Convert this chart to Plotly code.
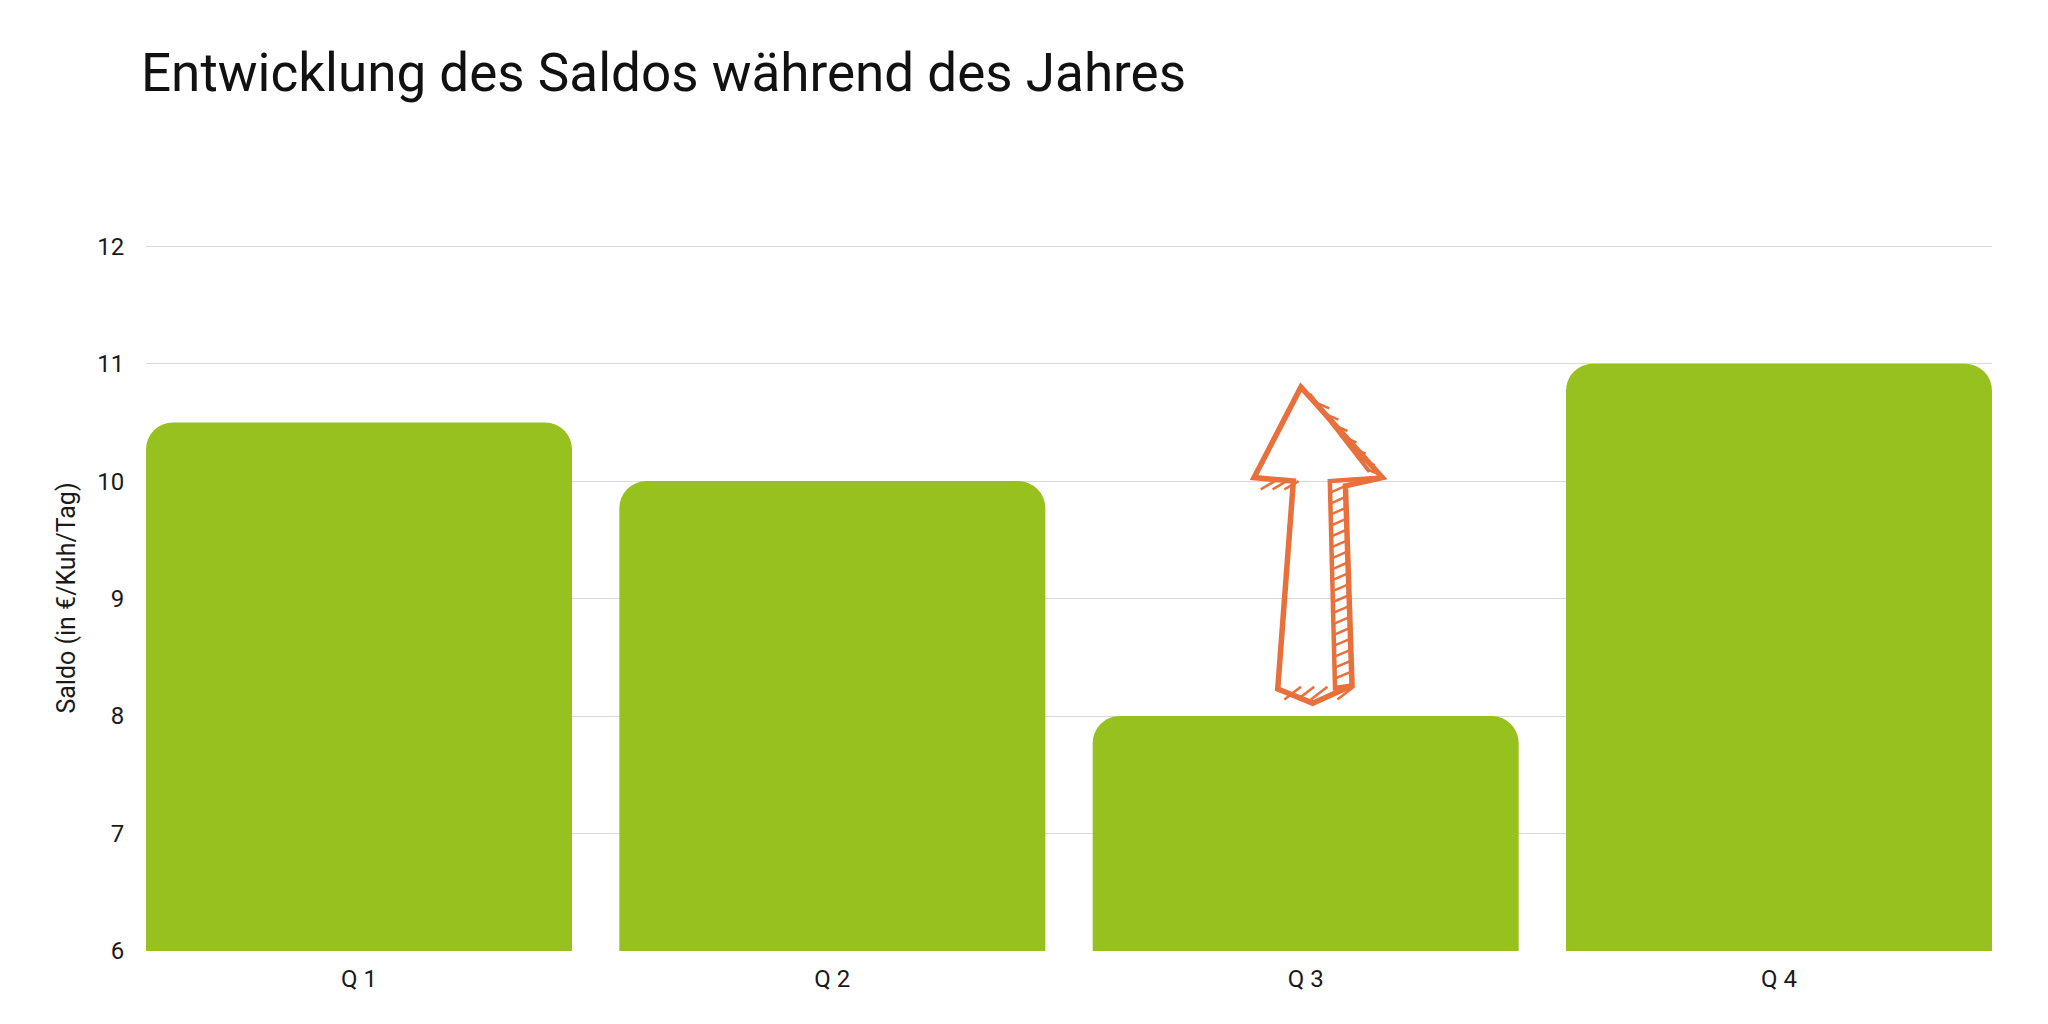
import plotly.graph_objects as go

# Data
categories = ["Q 1", "Q 2", "Q 3", "Q 4"]
saldo = [10.5, 10.0, 8.0, 11.0]
y_ticks = [6, 7, 8, 9, 10, 11, 12]

title_text = "Entwicklung des Saldos während des Jahres"
y_title = "Saldo (in €/Kuh/Tag)"

GREEN = "#96C11F"
ORANGE = "#E8703C"
FONT = "Roboto, 'DejaVu Sans', sans-serif"

xpos = list(range(len(categories)))

fig = go.Figure()
fig.add_trace(go.Bar(
    x=xpos, y=saldo,
    marker=dict(color=GREEN, cornerradius=27, line=dict(width=0)),
    hoverinfo="skip", showlegend=False,
))

# Hand-drawn style arrow over Q3 (decorative annotation), anchored to Q3 value
cx = 2
b = saldo[2]
outline = [
    (cx - 0.010, b + 2.80),  # tip
    (cx + 0.162, b + 2.03),  # right head
    (cx + 0.084, b + 1.96),  # shaft outer right top
    (cx + 0.098, b + 0.26),  # shaft outer right bottom
    (cx + 0.015, b + 0.11),  # bottom
    (cx - 0.059, b + 0.23),  # shaft left bottom
    (cx - 0.026, b + 2.00),  # shaft left top
    (cx - 0.109, b + 2.03),  # left head
]
def path_from(pts, close=True):
    s = "M " + " L ".join(f"{x},{y}" for x, y in pts)
    return s + (" Z" if close else "")

fig.add_shape(type="path", path=path_from(outline), xref="x", yref="y",
              line=dict(color=ORANGE, width=5.5), layer="above")
# front face right edge of shaft
front = [(cx + 0.162, b + 2.03), (cx + 0.051, b + 2.00), (cx + 0.062, b + 0.24), (cx + 0.098, b + 0.26)]
fig.add_shape(type="path", path=path_from(front, close=False), xref="x", yref="y",
              line=dict(color=ORANGE, width=4.5), layer="above")
# side face of head
headside = [(cx + 0.008, b + 2.74), (cx + 0.135, b + 2.08)]
fig.add_shape(type="path", path=path_from(headside, close=False), xref="x", yref="y",
              line=dict(color=ORANGE, width=4), layer="above")
# hatch marks
hatch = ""
n = 18
for i in range(n):
    t = i / (n - 1)
    yy = b + 0.32 + t * 1.58
    x0 = cx + 0.062 - t * 0.011
    x1 = cx + 0.098 - t * 0.014
    hatch += f"M {x0},{yy} L {x1},{yy + 0.06} "
for i in range(7):
    t = i / 6
    xx = cx + 0.015 + t * 0.115
    yy = b + 2.68 - t * 0.58
    hatch += f"M {xx},{yy} L {xx + 0.035},{yy - 0.06} "
for i in range(5):
    xx = cx - 0.045 + i * 0.028
    hatch += f"M {xx},{b + 0.14} L {xx + 0.035},{b + 0.25} "
for i in range(3):
    xx = cx - 0.095 + i * 0.025
    hatch += f"M {xx},{b + 1.93} L {xx + 0.03},{b + 2.0} "
fig.add_shape(type="path", path=hatch, xref="x", yref="y",
              line=dict(color=ORANGE, width=2.5), layer="above")

fig.update_layout(
    width=2048, height=1024,
    margin=dict(l=146, r=56, t=245, b=73),
    paper_bgcolor="white", plot_bgcolor="white",
    bargap=0.10,
    font=dict(family=FONT, color="#1a1a1a", size=24),
    title=dict(text=title_text, x=141 / 2048, xanchor="left", y=1 - 72 / 1024, yanchor="middle",
               font=dict(family=FONT, size=53, color="#111111")),
    xaxis=dict(
        range=[-0.45, 3.45], tickvals=xpos, ticktext=categories,
        showgrid=False, zeroline=False, showline=False,
        tickfont=dict(size=24, color="#1a1a1a"), ticks="outside", ticklen=6, tickcolor="rgba(0,0,0,0)",
    ),
    yaxis=dict(
        range=[6, 12.01], tickvals=y_ticks, showgrid=True, gridcolor="#d9d9d9", gridwidth=1.2,
        zeroline=False, showline=False,
        ticks="outside", ticklen=16, tickcolor="rgba(0,0,0,0)",
        tickfont=dict(size=24, color="#1a1a1a"),
        title=dict(text=y_title, font=dict(size=25, color="#1a1a1a"), standoff=14),
    ),
)

fig.write_html("out.html")
